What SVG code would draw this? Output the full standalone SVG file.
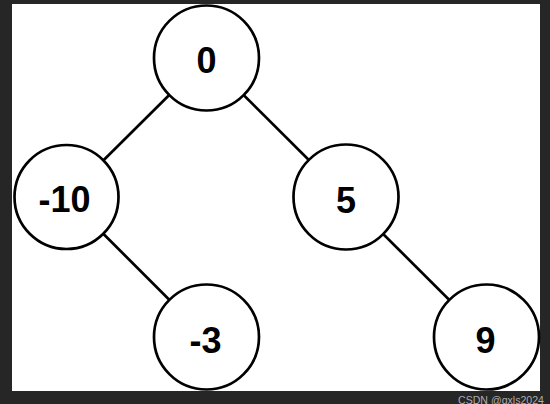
<svg xmlns="http://www.w3.org/2000/svg" width="550" height="404" viewBox="0 0 550 404">
<style>
.node circle{fill:#fff;stroke:#000;stroke-width:2.7}
.node text{font-family:"Liberation Sans",Arial,sans-serif;font-weight:bold;font-size:36px;text-anchor:middle;fill:#000}
.edge{stroke:#000;stroke-width:2.7;fill:none}
</style>
<rect x="0" y="0" width="550" height="404" fill="#262626"/>
<rect x="12" y="4" width="528" height="387" fill="#fff"/>
<g id="connectors">
<line class="edge" x1="206.5" y1="58" x2="66.5" y2="197"/>
<line class="edge" x1="206.5" y1="58" x2="346" y2="197"/>
<line class="edge" x1="66.5" y1="197" x2="206.5" y2="337"/>
<line class="edge" x1="346" y1="197" x2="486.5" y2="337"/>
</g>
<g id="n0" class="node"><circle cx="206.5" cy="58" r="52.5"/><text x="206.5" y="73">0</text></g>
<g id="n-10" class="node"><circle cx="66.5" cy="197" r="52"/><text x="64.5" y="212">-10</text></g>
<g id="n5" class="node"><circle cx="346" cy="197" r="52.5"/><text x="346" y="213">5</text></g>
<g id="n-3" class="node"><circle cx="206.5" cy="337" r="52.5"/><text x="205.5" y="353">-3</text></g>
<g id="n9" class="node"><circle cx="486.5" cy="337" r="52.5"/><text x="485.5" y="353">9</text></g>
<text x="458" y="403.5" font-family="Liberation Sans,Arial,sans-serif" font-size="11.2" textLength="86" lengthAdjust="spacingAndGlyphs" fill="#c8c8c8" fill-opacity="0.85">CSDN @gxls2024</text>
</svg>
